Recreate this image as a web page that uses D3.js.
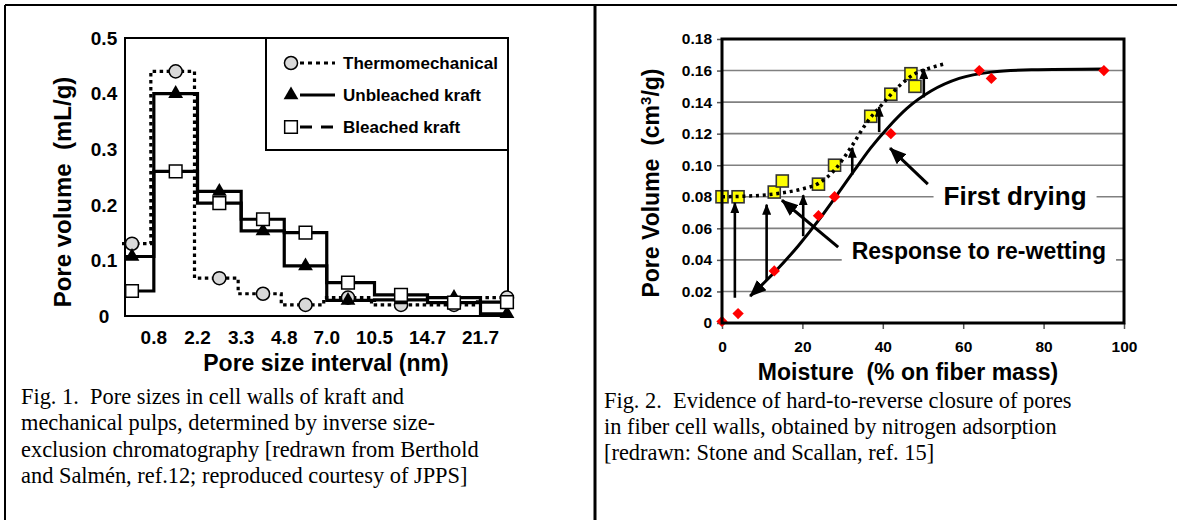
<!DOCTYPE html>
<html>
<head>
<meta charset="utf-8">
<script src="https://cdn.jsdelivr.net/npm/d3@7"></script>
<style>
  body { margin: 0; background: #fff; }
  svg { display: block; }
  .sans { font-family: "Liberation Sans", Arial, sans-serif; font-weight: bold; }
  .serif { font-family: "Liberation Serif", "Times New Roman", serif; font-size: 22.4px; white-space: pre; }
</style>
</head>
<body>
<script>
// ---------- Fig. 1 : pore volume per size interval ----------
const boundaryLabels = ["0.8", "2.2", "3.3", "4.8", "7.0", "10.5", "14.7", "21.7"];
const tmp        = [0.13, 0.44, 0.068, 0.04, 0.02, 0.033, 0.02, 0.02, 0.033];
const unbleached = [0.107, 0.40, 0.224, 0.153, 0.09, 0.028, 0.029, 0.033, 0.004];
const bleached   = [0.045, 0.26, 0.203, 0.174, 0.15, 0.06, 0.038, 0.024, 0.025];
const fig1Ticks  = [0, 0.1, 0.2, 0.3, 0.4, 0.5];

// ---------- Fig. 2 : pore volume vs moisture ----------
const dryMoisture = [0, 4, 13, 24, 28, 42, 64, 67, 95];
const dryVolume   = [0.001, 0.006, 0.033, 0.068, 0.08, 0.12, 0.16, 0.155, 0.16];
const wetMoisture = [0, 4, 13, 15, 24, 28, 37, 42, 47, 48];
const wetVolume   = [0.08, 0.08, 0.083, 0.09, 0.088, 0.1, 0.131, 0.145, 0.158, 0.15];
const dryFitX = [7, 13, 19, 24, 28, 33, 37, 41, 46, 52, 59, 67, 77, 95];
const dryFitY = [0.017, 0.032, 0.049, 0.065, 0.079, 0.097, 0.111, 0.123, 0.136, 0.147, 0.155, 0.159, 0.1605, 0.161];
const wetFitX = [0, 5, 10, 15, 20, 24, 28, 32, 36, 40, 44, 48, 51, 55];
const wetFitY = [0.08, 0.0803, 0.081, 0.0825, 0.085, 0.0885, 0.097, 0.111, 0.127, 0.139, 0.15, 0.158, 0.161, 0.164];
const arrowX    = [3.2, 11.1, 20.2, 32.4, 39.1, 50.2];
const arrowFrom = [0.016, 0.027, 0.055, 0.094, 0.121, 0.143];
const arrowTo   = [0.076, 0.075, 0.081, 0.111, 0.137, 0.161];
const fig2YTicks = [0, 0.02, 0.04, 0.06, 0.08, 0.10, 0.12, 0.14, 0.16, 0.18];
const fig2XTicks = [0, 20, 40, 60, 80, 100];
const notes = [
  {text: "First drying", size: 26, at: [72.9, 0.081], from: [51.2, 0.088], to: [41.8, 0.1108]},
  {text: "Response to re-wetting", size: 23, at: [63.9, 0.0456], from: [28.9, 0.0481], to: [14.9, 0.0778]}
];

const caption1 = ["Fig. 1.  Pore sizes in cell walls of kraft and",
  "mechanical pulps, determined by inverse size-",
  "exclusion chromatography [redrawn from Berthold",
  "and Salmén, ref.12; reproduced courtesy of JPPS]"];
const caption2 = ["Fig. 2.  Evidence of hard-to-reverse closure of pores",
  "in fiber cell walls, obtained by nitrogen adsorption",
  "[redrawn: Stone and Scallan, ref. 15]"];

const W = 1177, H = 520;
const svg = d3.select("body").append("svg").attr("width", W).attr("height", H);

const defs = svg.append("defs");
function head(id, len, wid) {
  defs.append("marker").attr("id", id)
    .attr("viewBox", `0 0 ${len} ${wid}`)
    .attr("refX", len - 1).attr("refY", wid / 2)
    .attr("markerWidth", len).attr("markerHeight", wid)
    .attr("markerUnits", "userSpaceOnUse")
    .attr("orient", "auto-start-reverse")
    .append("path").attr("d", `M0,0L${len},${wid / 2}L0,${wid}Z`).attr("fill", "#000");
}
head("hs", 11, 9);
head("hb", 17, 14);

// page frame
svg.append("line").attr("x1", 5).attr("x2", W).attr("y1", 5).attr("y2", 5).attr("stroke", "#000").attr("stroke-width", 2);
svg.append("line").attr("x1", 5).attr("x2", 5).attr("y1", 5).attr("y2", H).attr("stroke", "#000").attr("stroke-width", 2);
svg.append("line").attr("x1", 595).attr("x2", 595).attr("y1", 5).attr("y2", H).attr("stroke", "#000").attr("stroke-width", 3);

// ================= Fig. 1 =================
const p1 = {left: 125, right: 508, top: 38, bottom: 316};
const xL = d3.scaleLinear().domain([0, 3, 5, 8]).range([132, 263, 348, 507]);
const yL = d3.scaleLinear().domain([0, 0.5]).range([p1.bottom, p1.top]);
const g1 = svg.append("g");

g1.append("rect").attr("x", p1.left).attr("y", p1.top)
  .attr("width", p1.right - p1.left).attr("height", p1.bottom - p1.top)
  .attr("fill", "none").attr("stroke", "#000").attr("stroke-width", 2);

g1.selectAll(".ytick").data(fig1Ticks).enter().append("text")
  .attr("class", "sans").attr("font-size", 19)
  .attr("x", 104).attr("y", d => yL(d)).attr("dy", "0.36em")
  .attr("text-anchor", "middle").text(d => d === 0 ? "0" : d3.format(".1f")(d));

g1.selectAll(".xtick").data(boundaryLabels).enter().append("text")
  .attr("class", "sans").attr("font-size", 19)
  .attr("x", (d, i) => xL(i + 0.5)).attr("y", 344)
  .attr("text-anchor", "middle").text(d => d);

g1.append("text").attr("class", "sans").attr("font-size", 23)
  .attr("x", 326).attr("y", 371).attr("text-anchor", "middle")
  .text("Pore size interval (nm)");
g1.append("text").attr("class", "sans").attr("font-size", 24)
  .attr("transform", "translate(71,192) rotate(-90)").attr("text-anchor", "middle")
  .attr("xml:space", "preserve").style("white-space", "pre")
  .text("Pore volume  (mL/g)");

const stepLine = d3.line().x(d => xL(d[0])).y(d => yL(d[1])).curve(d3.curveStep);
function steps(vals) {
  const pts = vals.map((v, i) => [i, v]);
  return [[xL.invert(p1.left), vals[0]], ...pts, [xL.invert(p1.right), vals[vals.length - 1]]];
}
const series = [
  {vals: tmp, dash: "3.5,3.5", shift: -3, sym: d3.symbolCircle, size: 135, fill: "#d9d9d9", stroke: "#000"},
  {vals: unbleached, dash: null, shift: 0, sym: d3.symbolTriangle, size: 95, fill: "#000", stroke: "none"},
  {vals: bleached, dash: null, shift: 0, sym: d3.symbolSquare, size: 160, fill: "#fff", stroke: "#000"}
];
series.forEach(s => {
  g1.append("path").attr("d", stepLine(steps(s.vals)))
    .attr("transform", `translate(${s.shift},0)`)
    .attr("fill", "none").attr("stroke", "#000").attr("stroke-width", 3.2)
    .attr("stroke-dasharray", s.dash);
});
series.forEach(s => {
  g1.selectAll(null).data(s.vals).enter().append("path")
    .attr("d", d3.symbol().type(s.sym).size(s.size))
    .attr("transform", (d, i) => `translate(${xL(i)},${yL(d)})`)
    .attr("fill", s.fill).attr("stroke", s.stroke).attr("stroke-width", 1.5);
});

// legend
const lg = g1.append("g");
lg.append("rect").attr("x", 266).attr("y", p1.top).attr("width", p1.right - 266).attr("height", 112)
  .attr("fill", "#fff").attr("stroke", "#000").attr("stroke-width", 2);
const legendItems = [
  {name: "Thermomechanical", s: series[0], dash: "4,4"},
  {name: "Unbleached kraft", s: series[1], dash: null},
  {name: "Bleached kraft", s: series[2], dash: "12,9"}
];
legendItems.forEach((d, i) => {
  const y = 63 + i * 32;
  lg.append("line").attr("x1", 300).attr("x2", 335).attr("y1", y).attr("y2", y)
    .attr("stroke", "#000").attr("stroke-width", 3.2).attr("stroke-dasharray", d.dash);
  lg.append("path").attr("d", d3.symbol().type(d.s.sym).size(d.s.size))
    .attr("transform", `translate(291,${y})`)
    .attr("fill", d.s.fill).attr("stroke", d.s.stroke).attr("stroke-width", 1.5);
  lg.append("text").attr("class", "sans").attr("font-size", 17)
    .attr("x", 343).attr("y", y).attr("dy", "0.36em").text(d.name);
});

// ================= Fig. 2 =================
const p2 = {left: 722, right: 1124, top: 39, bottom: 323};
const xR = d3.scaleLinear().domain([0, 100]).range([p2.left, p2.right]);
const yR = d3.scaleLinear().domain([0, 0.18]).range([p2.bottom, p2.top]);
const g2 = svg.append("g");

g2.selectAll(".grid").data(fig2YTicks.slice(1, -1)).enter().append("line")
  .attr("x1", p2.left).attr("x2", p2.right).attr("y1", d => yR(d)).attr("y2", d => yR(d))
  .attr("stroke", "#808080").attr("stroke-width", 1.6);

// white boxes behind the annotation labels hide the gridlines there
const noteLayer = g2.append("g");

const yAxis = g2.append("g").attr("transform", `translate(${p2.left},0)`)
  .call(d3.axisLeft(yR).tickValues(fig2YTicks).tickSize(5).tickPadding(5)
    .tickFormat(d => d === 0 ? "0" : d3.format(".2f")(d)));
const xAxis = g2.append("g").attr("transform", `translate(0,${p2.bottom})`)
  .call(d3.axisBottom(xR).tickValues(fig2XTicks).tickSize(6).tickPadding(12));
[yAxis, xAxis].forEach(a => {
  a.select(".domain").remove();
  a.selectAll("line").attr("stroke", "#555").attr("stroke-width", 1.5);
  a.selectAll("text").attr("class", "sans").attr("font-size", 15.5).attr("fill", "#000");
});

g2.append("text").attr("class", "sans").attr("font-size", 23)
  .attr("x", 908).attr("y", 380).attr("text-anchor", "middle")
  .attr("xml:space", "preserve").style("white-space", "pre")
  .text("Moisture  (% on fiber mass)");
const yt = g2.append("text").attr("class", "sans").attr("font-size", 23)
  .attr("transform", "translate(659,183) rotate(-90)").attr("text-anchor", "middle")
  .attr("xml:space", "preserve").style("white-space", "pre");
yt.append("tspan").text("Pore Volume  (cm");
yt.append("tspan").attr("font-size", 15).attr("dy", -8).text("3");
yt.append("tspan").attr("dy", 8).text("/g)");

notes.forEach(n => {
  const t = noteLayer.append("text").attr("class", "sans").attr("font-size", n.size)
    .attr("x", xR(n.at[0])).attr("y", yR(n.at[1])).attr("dy", "0.36em")
    .attr("text-anchor", "middle").text(n.text);
  const b = t.node().getBBox();
  noteLayer.insert("rect", () => t.node()).attr("x", b.x - 10).attr("y", b.y - 2)
    .attr("width", b.width + 20).attr("height", b.height + 4).attr("fill", "#fff");
});

const smooth = d3.line().x(d => xR(d[0])).y(d => yR(d[1])).curve(d3.curveMonotoneX);
g2.append("path").attr("d", smooth(dryFitX.map((x, i) => [x, dryFitY[i]])))
  .attr("fill", "none").attr("stroke", "#000").attr("stroke-width", 3)
  .attr("marker-start", "url(#hb)");

g2.selectAll(".dry").data(dryMoisture).enter().append("path")
  .attr("d", d3.symbol().type(d3.symbolSquare).size(64))
  .attr("transform", (d, i) => `translate(${xR(d)},${yR(dryVolume[i])}) rotate(45)`)
  .attr("fill", "#ff0000");

g2.selectAll(".wet").data(wetMoisture).enter().append("rect")
  .attr("x", d => xR(d) - 6).attr("y", (d, i) => yR(wetVolume[i]) - 6)
  .attr("width", 12).attr("height", 12)
  .attr("fill", "#ffff00").attr("stroke", "#333").attr("stroke-width", 1.6);

g2.append("path").attr("d", smooth(wetFitX.map((x, i) => [x, wetFitY[i]])))
  .attr("fill", "none").attr("stroke", "#000").attr("stroke-width", 3.5)
  .attr("stroke-dasharray", "3,3.8");

g2.selectAll(".rise").data(arrowX).enter().append("line")
  .attr("x1", d => xR(d)).attr("x2", d => xR(d))
  .attr("y1", (d, i) => yR(arrowFrom[i])).attr("y2", (d, i) => yR(arrowTo[i]))
  .attr("stroke", "#000").attr("stroke-width", 2.6).attr("marker-end", "url(#hs)");

notes.forEach(n => {
  g2.append("line").attr("x1", xR(n.from[0])).attr("y1", yR(n.from[1]))
    .attr("x2", xR(n.to[0])).attr("y2", yR(n.to[1]))
    .attr("stroke", "#000").attr("stroke-width", 3).attr("marker-end", "url(#hb)");
});

g2.append("rect").attr("x", p2.left).attr("y", p2.top)
  .attr("width", p2.right - p2.left).attr("height", p2.bottom - p2.top)
  .attr("fill", "none").attr("stroke", "#000").attr("stroke-width", 3);

// ================= captions =================
svg.selectAll(".cap1").data(caption1).enter().append("text")
  .attr("class", "serif").attr("xml:space", "preserve")
  .attr("x", 21).attr("y", (d, i) => 404 + i * 26.3).text(d => d);
svg.selectAll(".cap2").data(caption2).enter().append("text")
  .attr("class", "serif").attr("xml:space", "preserve")
  .attr("x", 604).attr("y", (d, i) => 408 + i * 26).text(d => d);
</script>
</body>
</html>
